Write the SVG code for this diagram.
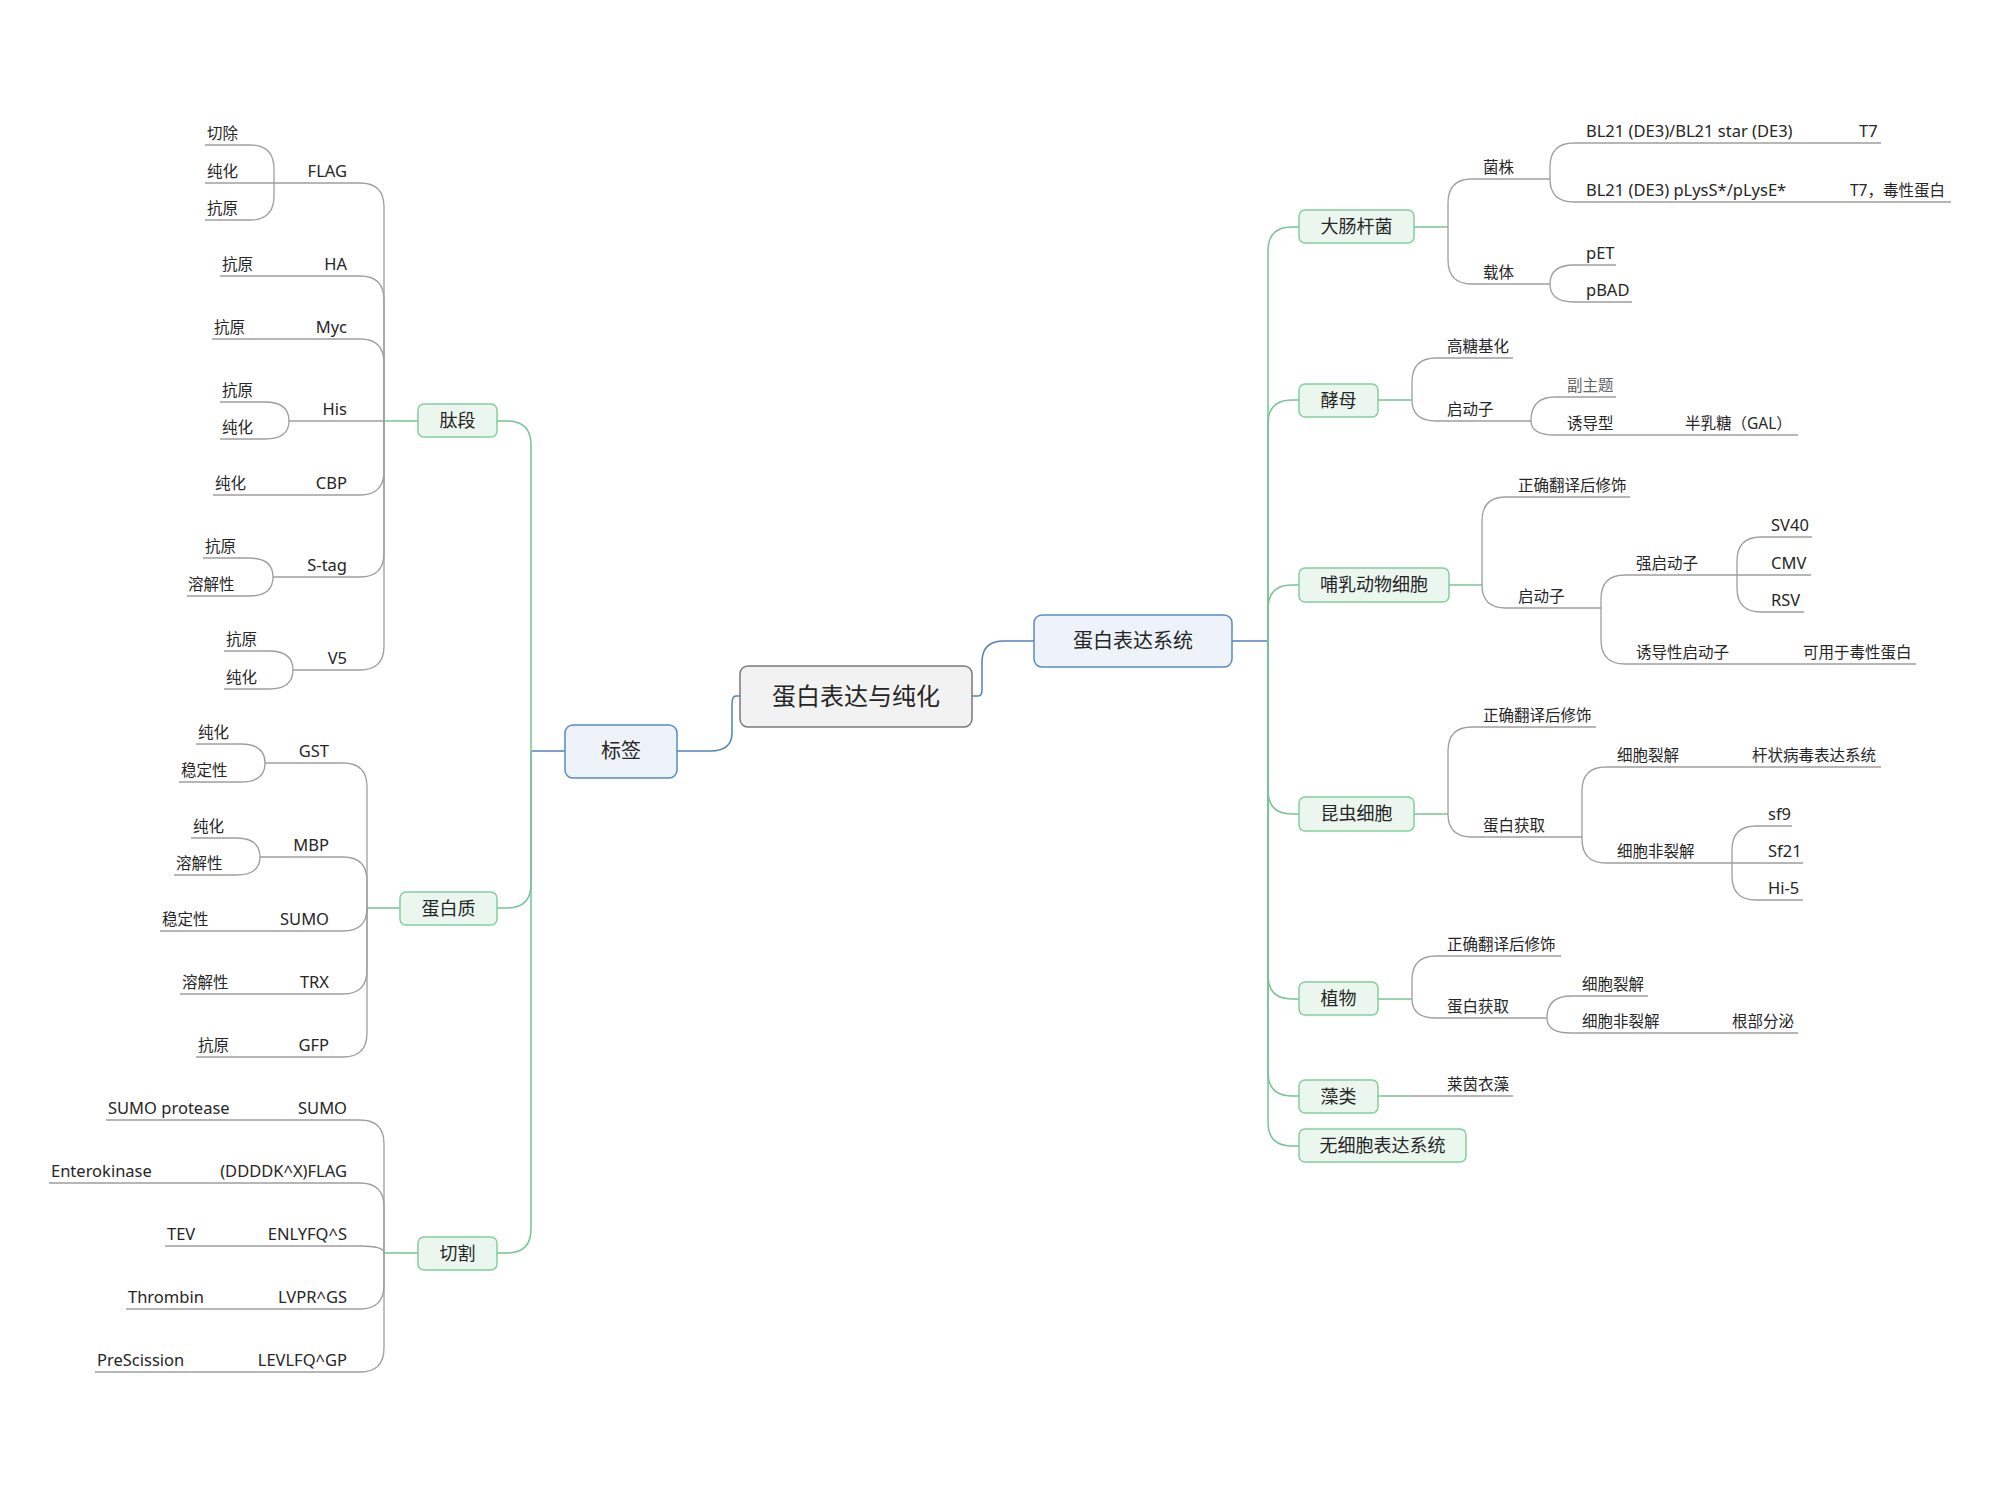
<svg xmlns="http://www.w3.org/2000/svg" width="2000" height="1500" viewBox="0 0 2000 1500">
<defs>
<style>
.cb{fill:none;stroke:#4f81bd;stroke-width:1.5}
.cg{fill:none;stroke:#77c493;stroke-width:1.5}
.cx{fill:none;stroke:#9e9e9e;stroke-width:1.3}
text{font-family:"Noto Sans","Noto Sans CJK SC",sans-serif;fill:#262626}
.t{font-size:15.5px}
.l{font-size:16.5px}
.e{text-anchor:end}
.m{text-anchor:middle}
.b0{fill:#f2f2f2;stroke:#7a7a7a;stroke-width:1.5}
.b1{fill:#eef3fa;stroke:#5a8ac6;stroke-width:1.5}
.b2{fill:#ebf6ef;stroke:#83cf9e;stroke-width:1.5}
.s0{font-size:24px}
.s1{font-size:20px}
.s2{font-size:18px}
.lt{fill:#666}
</style>
</defs>
<rect width="2000" height="1500" fill="#ffffff"/>
<g id="connectors">
<path class="cb" d="M740,696 H736 Q732,696 732,704 V733 Q732,751 710,751 H677"/>
<path class="cb" d="M972,696 H978 Q982,696 982,690 V662 Q982,641 1004,641 H1034"/>
<path class="cb" d="M565,751 H531"/>
<path class="cb" d="M1232,641 H1268"/>
<path class="cg" d="M531,751 V445 Q531,421 507,421 H497"/>
<path class="cg" d="M531,751 V884 Q531,908 507,908 H497"/>
<path class="cg" d="M531,751 V1229 Q531,1253 507,1253 H497"/>
<path class="cg" d="M418,421 H384"/>
<path class="cg" d="M400,908 H367"/>
<path class="cg" d="M418,1253 H384"/>
<path class="cx" d="M384,421 V207 Q384,183 360,183 H274"/>
<path class="cx" d="M274,183 V169 Q274,145 250,145 H205"/>
<path class="cx" d="M274,183 H205"/>
<path class="cx" d="M274,183 V196 Q274,220 250,220 H205"/>
<path class="cx" d="M384,421 V300 Q384,276 360,276 H220"/>
<path class="cx" d="M384,421 V363 Q384,339 360,339 H212"/>
<path class="cx" d="M384,421 H289"/>
<path class="cx" d="M289,421 Q289,402 265,402 H220"/>
<path class="cx" d="M289,421 Q289,439 265,439 H220"/>
<path class="cx" d="M384,421 V471 Q384,495 360,495 H213"/>
<path class="cx" d="M384,421 V553 Q384,577 360,577 H273"/>
<path class="cx" d="M273,577 Q273,558 249,558 H203"/>
<path class="cx" d="M273,577 Q273,596 249,596 H187"/>
<path class="cx" d="M384,421 V646 Q384,670 360,670 H293"/>
<path class="cx" d="M293,670 Q293,651 269,651 H224"/>
<path class="cx" d="M293,670 Q293,689 269,689 H224"/>
<path class="cx" d="M367,908 V787 Q367,763 343,763 H265"/>
<path class="cx" d="M265,763 Q265,744 241,744 H196"/>
<path class="cx" d="M265,763 Q265,782 241,782 H179"/>
<path class="cx" d="M367,908 V881 Q367,857 343,857 H260"/>
<path class="cx" d="M260,857 Q260,838 236,838 H191"/>
<path class="cx" d="M260,857 Q260,875 236,875 H174"/>
<path class="cx" d="M367,908 Q367,931 343,931 H160"/>
<path class="cx" d="M367,908 V970 Q367,994 343,994 H180"/>
<path class="cx" d="M367,908 V1033 Q367,1057 343,1057 H196"/>
<path class="cx" d="M384,1253 V1144 Q384,1120 360,1120 H106"/>
<path class="cx" d="M384,1253 V1207 Q384,1183 360,1183 H49"/>
<path class="cx" d="M384,1253 Q384,1246 360,1246 H165"/>
<path class="cx" d="M384,1253 V1285 Q384,1309 360,1309 H126"/>
<path class="cx" d="M384,1253 V1348 Q384,1372 360,1372 H95"/>
<path class="cg" d="M1268,641 V251 Q1268,227 1292,227 H1299"/>
<path class="cg" d="M1268,641 V424 Q1268,400 1292,400 H1299"/>
<path class="cg" d="M1268,641 V609 Q1268,585 1292,585 H1299"/>
<path class="cg" d="M1268,641 V790 Q1268,814 1292,814 H1299"/>
<path class="cg" d="M1268,641 V975 Q1268,999 1292,999 H1299"/>
<path class="cg" d="M1268,641 V1072 Q1268,1096 1292,1096 H1299"/>
<path class="cg" d="M1268,641 V1122 Q1268,1146 1292,1146 H1299"/>
<path class="cg" d="M1414,227 H1448"/>
<path class="cg" d="M1378,400 H1412"/>
<path class="cg" d="M1449,585 H1482"/>
<path class="cg" d="M1414,814 H1448"/>
<path class="cg" d="M1378,999 H1412"/>
<path class="cg" d="M1378,1096 H1412"/>
<path class="cx" d="M1448,227 V203 Q1448,179 1472,179 H1550"/>
<path class="cx" d="M1550,179 V167 Q1550,143 1574,143 H1881"/>
<path class="cx" d="M1550,179 Q1550,202 1574,202 H1951"/>
<path class="cx" d="M1448,227 V260 Q1448,284 1472,284 H1550"/>
<path class="cx" d="M1550,284 Q1550,265 1574,265 H1616"/>
<path class="cx" d="M1550,284 Q1550,302 1574,302 H1632"/>
<path class="cx" d="M1412,400 V382 Q1412,358 1436,358 H1513"/>
<path class="cx" d="M1412,400 Q1412,421 1436,421 H1531"/>
<path class="cx" d="M1531,421 Q1531,397 1555,397 H1616"/>
<path class="cx" d="M1531,421 Q1531,435 1555,435 H1798"/>
<path class="cx" d="M1482,585 V521 Q1482,497 1506,497 H1630"/>
<path class="cx" d="M1482,585 Q1482,608 1506,608 H1601"/>
<path class="cx" d="M1601,608 V599 Q1601,575 1625,575 H1737"/>
<path class="cx" d="M1737,575 V561 Q1737,537 1761,537 H1812"/>
<path class="cx" d="M1737,575 H1811"/>
<path class="cx" d="M1737,575 V588 Q1737,612 1761,612 H1804"/>
<path class="cx" d="M1601,608 V640 Q1601,664 1625,664 H1916"/>
<path class="cx" d="M1448,814 V751 Q1448,727 1472,727 H1596"/>
<path class="cx" d="M1448,814 Q1448,837 1472,837 H1582"/>
<path class="cx" d="M1582,837 V791 Q1582,767 1606,767 H1881"/>
<path class="cx" d="M1582,837 V839 Q1582,863 1606,863 H1732"/>
<path class="cx" d="M1732,863 V850 Q1732,826 1756,826 H1792"/>
<path class="cx" d="M1732,863 H1803"/>
<path class="cx" d="M1732,863 V876 Q1732,900 1756,900 H1803"/>
<path class="cx" d="M1412,999 V980 Q1412,956 1436,956 H1561"/>
<path class="cx" d="M1412,999 Q1412,1018 1436,1018 H1547"/>
<path class="cx" d="M1547,1018 Q1547,996 1571,996 H1648"/>
<path class="cx" d="M1547,1018 Q1547,1033 1571,1033 H1798"/>
<path class="cx" d="M1412,1096 H1513"/>
</g>

<g id="n-root"><rect class="b0" x="740" y="666" width="232" height="61" rx="8"/><text class="s0 m" x="856" y="705">蛋白表达与纯化</text></g>
<g id="n-tag"><rect class="b1" x="565" y="725" width="112" height="53" rx="8"/><text class="s1 m" x="621" y="758">标签</text></g>
<g id="n-sys"><rect class="b1" x="1034" y="615" width="198" height="52" rx="8"/><text class="s1 m" x="1133" y="648">蛋白表达系统</text></g>

<g id="n-peptide"><rect class="b2" x="418" y="404" width="79" height="33" rx="6"/><text class="s2 m" x="457.5" y="427">肽段</text></g>
<g id="n-protein"><rect class="b2" x="400" y="892" width="97" height="33" rx="6"/><text class="s2 m" x="448.5" y="915">蛋白质</text></g>
<g id="n-cleave"><rect class="b2" x="418" y="1237" width="79" height="33" rx="6"/><text class="s2 m" x="457.5" y="1260">切割</text></g>

<g id="n-flag"><text class="l e" x="347" y="177">FLAG</text></g>
<g id="n-flag-1"><text class="t" x="207" y="139">切除</text></g>
<g id="n-flag-2"><text class="t" x="207" y="177">纯化</text></g>
<g id="n-flag-3"><text class="t" x="207" y="214">抗原</text></g>
<g id="n-ha"><text class="l e" x="347" y="270">HA</text></g>
<g id="n-ha-1"><text class="t" x="222" y="270">抗原</text></g>
<g id="n-myc"><text class="l e" x="347" y="333">Myc</text></g>
<g id="n-myc-1"><text class="t" x="214" y="333">抗原</text></g>
<g id="n-his"><text class="l e" x="347" y="415">His</text></g>
<g id="n-his-1"><text class="t" x="222" y="396">抗原</text></g>
<g id="n-his-2"><text class="t" x="222" y="433">纯化</text></g>
<g id="n-cbp"><text class="l e" x="347" y="489">CBP</text></g>
<g id="n-cbp-1"><text class="t" x="215" y="489">纯化</text></g>
<g id="n-stag"><text class="l e" x="347" y="571">S-tag</text></g>
<g id="n-stag-1"><text class="t" x="205" y="552">抗原</text></g>
<g id="n-stag-2"><text class="t" x="188" y="590">溶解性</text></g>
<g id="n-v5"><text class="l e" x="347" y="664">V5</text></g>
<g id="n-v5-1"><text class="t" x="226" y="645">抗原</text></g>
<g id="n-v5-2"><text class="t" x="226" y="683">纯化</text></g>

<g id="n-gst"><text class="l e" x="329" y="757">GST</text></g>
<g id="n-gst-1"><text class="t" x="198" y="738">纯化</text></g>
<g id="n-gst-2"><text class="t" x="181" y="776">稳定性</text></g>
<g id="n-mbp"><text class="l e" x="329" y="851">MBP</text></g>
<g id="n-mbp-1"><text class="t" x="193" y="832">纯化</text></g>
<g id="n-mbp-2"><text class="t" x="176" y="869">溶解性</text></g>
<g id="n-sumo"><text class="l e" x="329" y="925">SUMO</text></g>
<g id="n-sumo-1"><text class="t" x="162" y="925">稳定性</text></g>
<g id="n-trx"><text class="l e" x="329" y="988">TRX</text></g>
<g id="n-trx-1"><text class="t" x="182" y="988">溶解性</text></g>
<g id="n-gfp"><text class="l e" x="329" y="1051">GFP</text></g>
<g id="n-gfp-1"><text class="t" x="198" y="1051">抗原</text></g>

<g id="n-c-sumo"><text class="l e" x="347" y="1114">SUMO</text></g>
<g id="n-c-sumo-1"><text class="l" x="108" y="1114">SUMO protease</text></g>
<g id="n-c-flag"><text class="l e" x="347" y="1177">(DDDDK^X)FLAG</text></g>
<g id="n-c-flag-1"><text class="l" x="51" y="1177">Enterokinase</text></g>
<g id="n-c-tev"><text class="l e" x="347" y="1240">ENLYFQ^S</text></g>
<g id="n-c-tev-1"><text class="l" x="167" y="1240">TEV</text></g>
<g id="n-c-thr"><text class="l e" x="347" y="1303">LVPR^GS</text></g>
<g id="n-c-thr-1"><text class="l" x="128" y="1303">Thrombin</text></g>
<g id="n-c-pre"><text class="l e" x="347" y="1366">LEVLFQ^GP</text></g>
<g id="n-c-pre-1"><text class="l" x="97" y="1366">PreScission</text></g>

<g id="n-ecoli"><rect class="b2" x="1299" y="210" width="115" height="33" rx="6"/><text class="s2 m" x="1356.5" y="233">大肠杆菌</text></g>
<g id="n-yeast"><rect class="b2" x="1299" y="384" width="79" height="33" rx="6"/><text class="s2 m" x="1338.5" y="407">酵母</text></g>
<g id="n-mammal"><rect class="b2" x="1299" y="568" width="150" height="34" rx="6"/><text class="s2 m" x="1374" y="591">哺乳动物细胞</text></g>
<g id="n-insect"><rect class="b2" x="1299" y="797" width="115" height="34" rx="6"/><text class="s2 m" x="1356.5" y="820">昆虫细胞</text></g>
<g id="n-plant"><rect class="b2" x="1299" y="982" width="79" height="33" rx="6"/><text class="s2 m" x="1338.5" y="1005">植物</text></g>
<g id="n-algae"><rect class="b2" x="1299" y="1080" width="79" height="33" rx="6"/><text class="s2 m" x="1338.5" y="1103">藻类</text></g>
<g id="n-cellfree"><rect class="b2" x="1299" y="1129" width="167" height="33" rx="6"/><text class="s2 m" x="1382.5" y="1152">无细胞表达系统</text></g>

<g id="n-e-strain"><text class="t" x="1483" y="173">菌株</text></g>
<g id="n-e-s1"><text class="l" x="1586" y="137">BL21 (DE3)/BL21 star (DE3)</text></g>
<g id="n-e-s1-1"><text class="l" x="1859" y="137">T7</text></g>
<g id="n-e-s2"><text class="l" x="1586" y="196">BL21 (DE3) pLysS*/pLysE*</text></g>
<g id="n-e-s2-1"><text class="t" x="1850" y="196">T7，毒性蛋白</text></g>
<g id="n-e-vector"><text class="t" x="1483" y="278">载体</text></g>
<g id="n-e-pet"><text class="l" x="1586" y="259">pET</text></g>
<g id="n-e-pbad"><text class="l" x="1586" y="296">pBAD</text></g>

<g id="n-y-glyco"><text class="t" x="1447" y="352">高糖基化</text></g>
<g id="n-y-prom"><text class="t" x="1447" y="415">启动子</text></g>
<g id="n-y-sub"><text class="t lt" x="1567" y="391">副主题</text></g>
<g id="n-y-ind"><text class="t" x="1567" y="429">诱导型</text></g>
<g id="n-y-gal"><text class="t" x="1685" y="429">半乳糖（GAL）</text></g>

<g id="n-m-ptm"><text class="t" x="1518" y="491">正确翻译后修饰</text></g>
<g id="n-m-prom"><text class="t" x="1518" y="602">启动子</text></g>
<g id="n-m-strong"><text class="t" x="1636" y="569">强启动子</text></g>
<g id="n-m-sv40"><text class="l" x="1771" y="531">SV40</text></g>
<g id="n-m-cmv"><text class="l" x="1771" y="569">CMV</text></g>
<g id="n-m-rsv"><text class="l" x="1771" y="606">RSV</text></g>
<g id="n-m-ind"><text class="t" x="1636" y="658">诱导性启动子</text></g>
<g id="n-m-tox"><text class="t" x="1803" y="658">可用于毒性蛋白</text></g>

<g id="n-i-ptm"><text class="t" x="1483" y="721">正确翻译后修饰</text></g>
<g id="n-i-get"><text class="t" x="1483" y="831">蛋白获取</text></g>
<g id="n-i-lysis"><text class="t" x="1617" y="761">细胞裂解</text></g>
<g id="n-i-bac"><text class="t" x="1752" y="761">杆状病毒表达系统</text></g>
<g id="n-i-nonlysis"><text class="t" x="1617" y="857">细胞非裂解</text></g>
<g id="n-i-sf9"><text class="l" x="1768" y="820">sf9</text></g>
<g id="n-i-sf21"><text class="l" x="1768" y="857">Sf21</text></g>
<g id="n-i-hi5"><text class="l" x="1768" y="894">Hi-5</text></g>

<g id="n-p-ptm"><text class="t" x="1447" y="950">正确翻译后修饰</text></g>
<g id="n-p-get"><text class="t" x="1447" y="1012">蛋白获取</text></g>
<g id="n-p-lysis"><text class="t" x="1582" y="990">细胞裂解</text></g>
<g id="n-p-nonlysis"><text class="t" x="1582" y="1027">细胞非裂解</text></g>
<g id="n-p-root"><text class="t" x="1732" y="1027">根部分泌</text></g>

<g id="n-a-chlamy"><text class="t" x="1447" y="1090">莱茵衣藻</text></g>
</svg>
